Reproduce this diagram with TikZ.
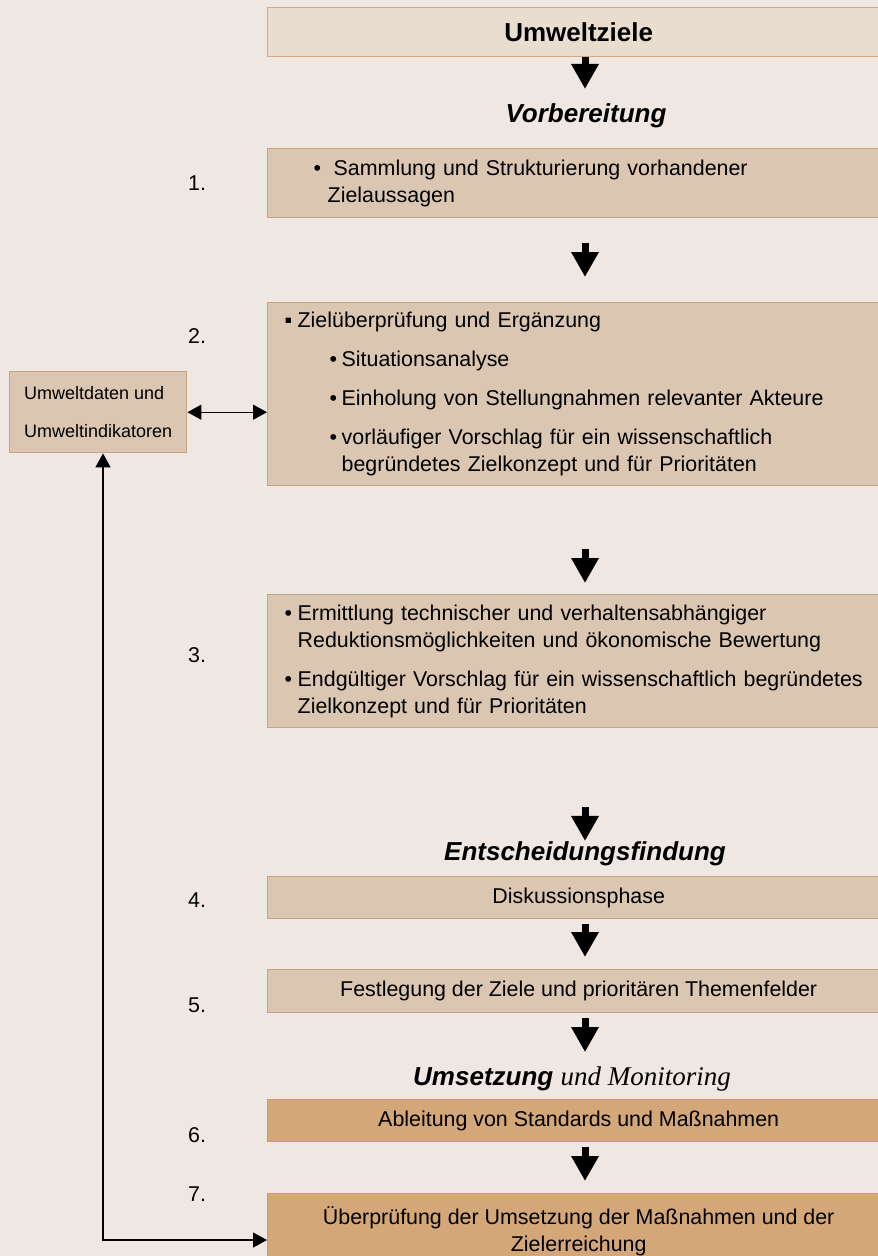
\documentclass[tikz,border=0pt]{standalone}
\usepackage{fontspec}
\setmainfont{Liberation Sans}
\newfontfamily\monfont{Liberation Serif}
\usetikzlibrary{arrows.meta}

\definecolor{bgcol}{HTML}{EFE7E1}
\definecolor{topfill}{HTML}{E9DDD0}
\definecolor{topline}{HTML}{D1A887}
\definecolor{stepfill}{HTML}{DBC6B2}
\definecolor{stepline}{HTML}{C9A283}
\definecolor{actfill}{HTML}{D3A778}
\definecolor{actline}{HTML}{D6A22E}

\tikzset{
  boxbase/.style={draw, line width=1.4pt, anchor=north west, minimum width=622pt,
    inner sep=0pt, font=\fontsize{21.4}{27}\selectfont},
  goalbox/.style={boxbase, fill=topfill, draw=topline, font=\fontsize{26}{30}\selectfont\bfseries},
  stepbox/.style={boxbase, fill=stepfill, draw=stepline},
  actbox/.style={boxbase, fill=actfill, draw=actline},
  listbox/.style={stepbox, text width=588pt, inner xsep=17pt, align=left},
  phase/.style={anchor=base, inner sep=0pt, font=\fontsize{26}{30}\selectfont\bfseries\itshape},
  num/.style={anchor=base west, inner sep=0pt, font=\fontsize{21.4}{26}\selectfont},
  flow/.style={line width=7pt, -{Triangle[length=25pt,width=26pt]}},
  link/.style={line width=1.3pt, {Triangle[length=14pt,width=15pt]}-{Triangle[length=14pt,width=15pt]}},
}

\begin{document}
\begin{tikzpicture}[x=1pt, y=-1pt]
\useasboundingbox (0,0) rectangle (878,1256);
\fill[bgcol] (0,0) rectangle (878,1256);

% phases
\node[goalbox, minimum height=49pt] (ziele) at (267,7) {Umweltziele};
\node[phase] (vorb) at (586,122) {Vorbereitung};
\node[phase] (ent) at (585,860) {Entscheidungsfindung};
\node[phase] (ums) at (572,1085) {Umsetzung {\monfont\mdseries\fontsize{27}{30}\selectfont und Monitoring}};

% steps
\node[listbox, minimum height=69pt] (box1) at (267,148) {%
  \hspace*{29pt}\makebox[20pt][l]{•}Sammlung und Strukturierung vorhandener\\
  \hspace*{43pt}Zielaussagen};
\node[listbox, minimum height=183pt] (box2) at (267,302) {%
  \makebox[13pt][l]{▪}Zielüberprüfung und Ergänzung\\[12pt]
  \hspace*{45pt}\makebox[12pt][l]{•}Situationsanalyse\\[12pt]
  \hspace*{45pt}\makebox[12pt][l]{•}Einholung von Stellungnahmen relevanter Akteure\\[12pt]
  \hspace*{45pt}\makebox[12pt][l]{•}vorläufiger Vorschlag für ein wissenschaftlich\\
  \hspace*{57pt}begründetes Zielkonzept und für Prioritäten};
\node[listbox, minimum height=133pt] (box3) at (267,594) {%
  \makebox[13pt][l]{•}Ermittlung technischer und verhaltensabhängiger\\
  \hspace*{13pt}Reduktionsmöglichkeiten und ökonomische Bewertung\\[12pt]
  \makebox[13pt][l]{•}Endgültiger Vorschlag für ein wissenschaftlich begründetes\\
  \hspace*{13pt}Zielkonzept und für Prioritäten};
\node[stepbox, minimum height=42pt] (box4) at (267,876) {Diskussionsphase};
\node[stepbox, minimum height=43pt] (box5) at (267,969) {Festlegung der Ziele und prioritären Themenfelder};
\node[actbox, minimum height=42pt] (box6) at (267,1099) {Ableitung von Standards und Maßnahmen};
\node[actbox, minimum height=75pt, align=center] (box7) at (267,1193)
  {Überprüfung der Umsetzung der Maßnahmen und der\\Zielerreichung};

\node[stepbox, minimum width=177pt, minimum height=81pt, align=left,
  font=\fontsize{18}{38}\selectfont] (daten) at (9,371) {Umweltdaten und\\Umweltindikatoren};

\foreach \n/\y in {1/190,2/343,3/662,4/907,5/1012,6/1142,7/1201}
  \node[num] (n\n) at (188,\y) {\n.};

% arrows
\coordinate (ax) at (585,0);
\draw[flow, shorten >=14pt] (ziele.south -| ax) -- (vorb.north -| ax);
\draw[flow, shorten <=25pt, shorten >=25pt] (box1.south -| ax) -- (box2.north -| ax);
\draw[flow, shorten <=63pt, shorten >=11pt] (box2.south -| ax) -- (box3.north -| ax);
\draw[flow, shorten <=79pt] (box3.south -| ax) -- (ent.north -| ax);
\draw[flow, shorten <=5pt, shorten >=12pt] (box4.south -| ax) -- (box5.north -| ax);
\draw[flow, shorten <=5pt, shorten >=14pt] (box5.south -| ax) -- (ums.north -| ax);
\draw[flow, shorten <=5pt, shorten >=12pt] (box6.south -| ax) -- (box7.north -| ax);

\coordinate (fb) at (103,1240);
\draw[link] (daten.east) -- (daten.east -| box2.west);
\draw[link] (daten.south -| fb) -- (fb) -- (fb -| box7.west);
\end{tikzpicture}
\end{document}
